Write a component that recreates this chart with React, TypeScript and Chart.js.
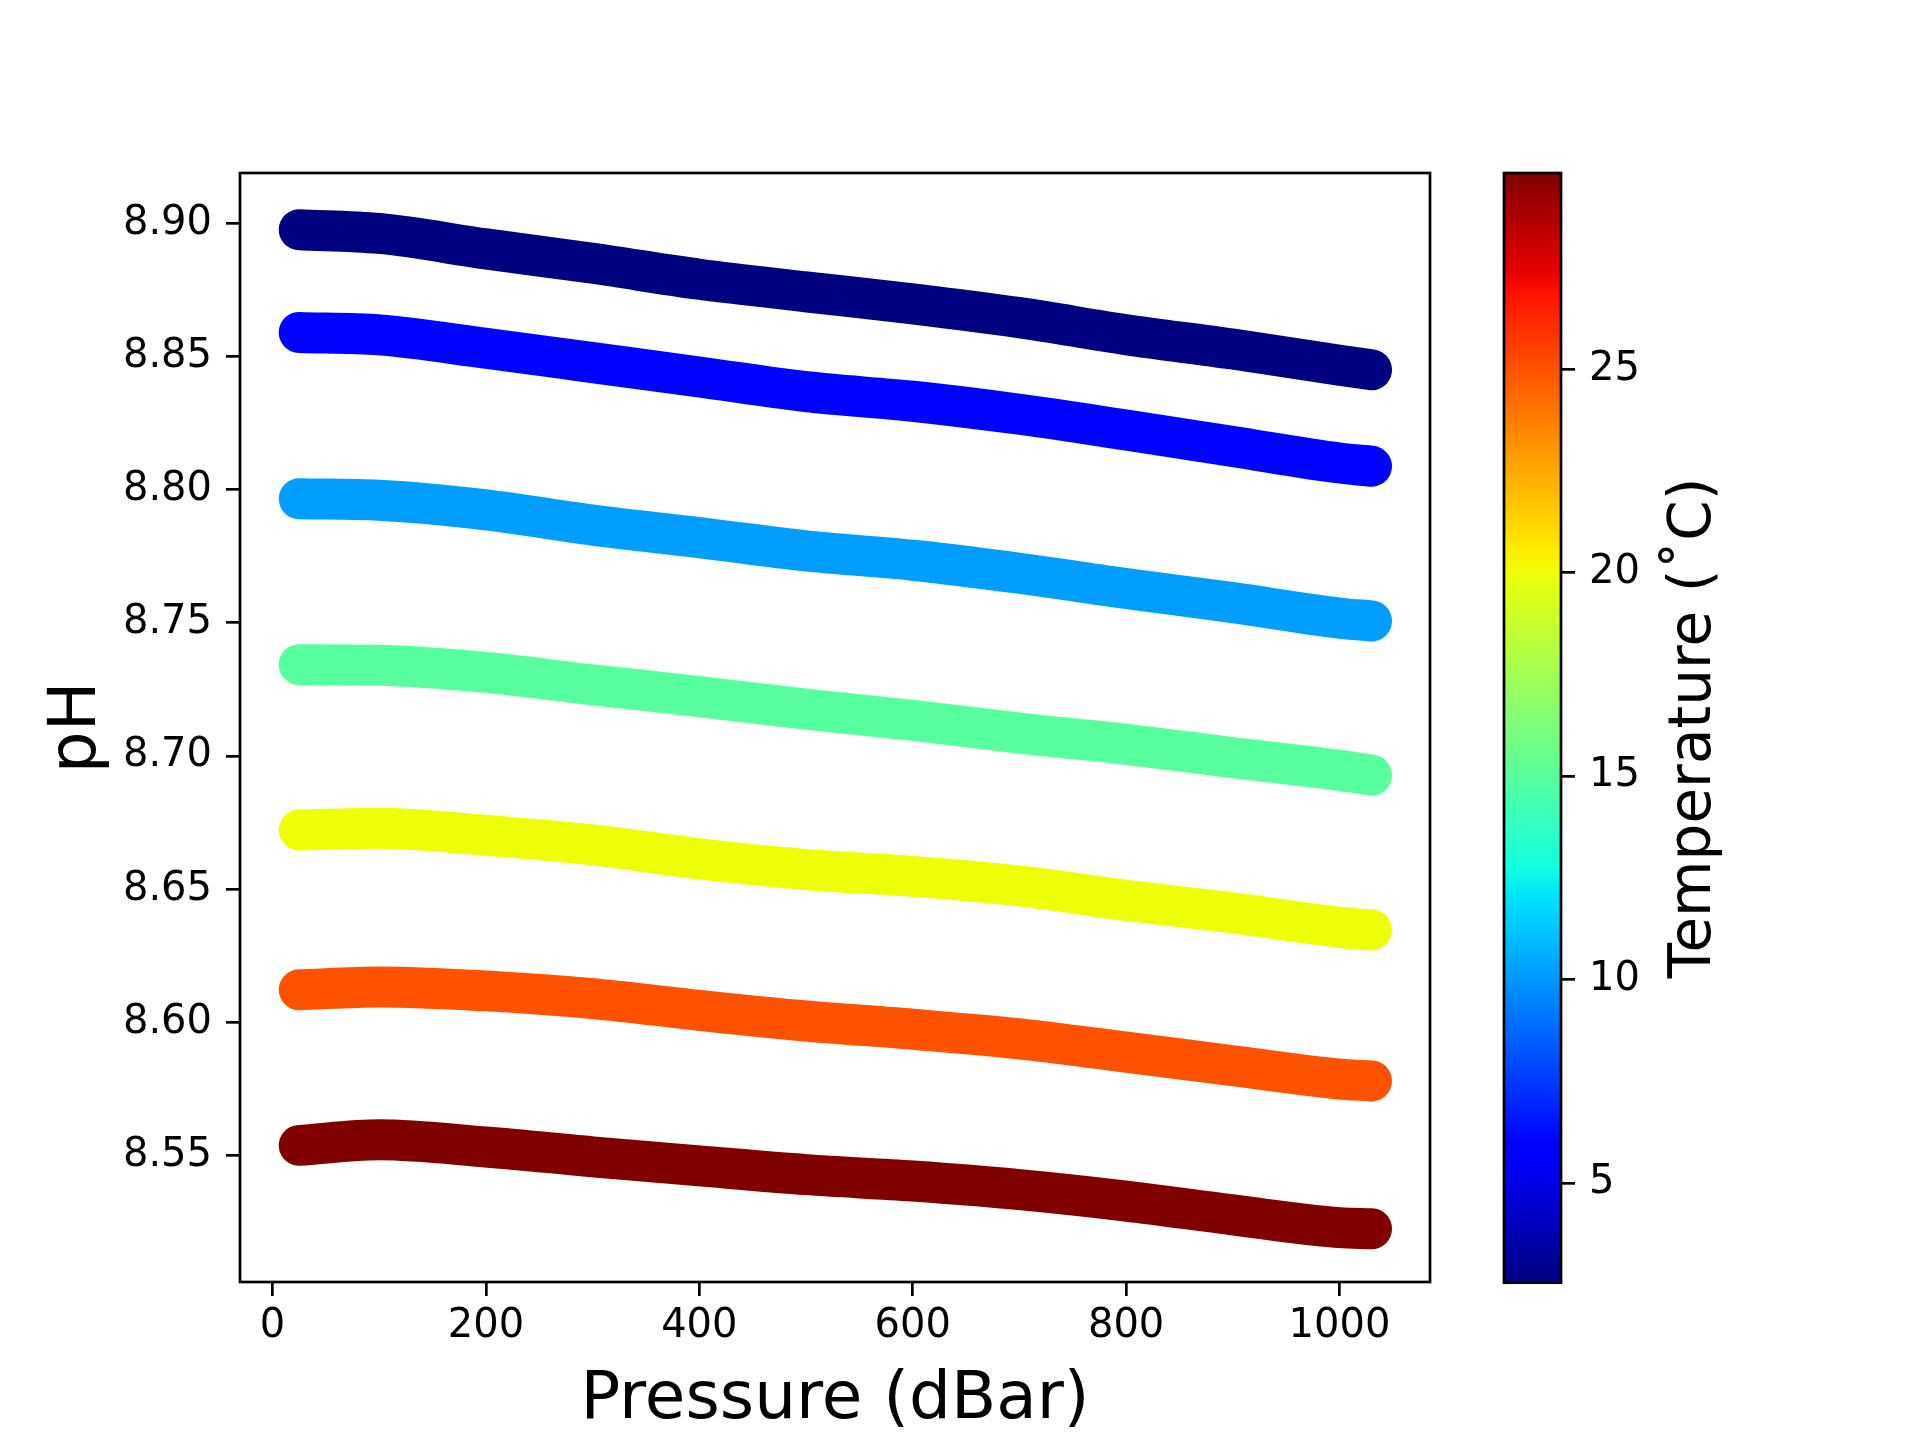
import React, { useEffect, useRef } from "react";
import { Chart, registerables } from "chart.js";

Chart.register(...registerables);

// pressure sample positions (dBar) read along each band
const pressure = [25, 100, 200, 300, 400, 500, 600, 700, 800, 900, 1000, 1030];

// pH at each pressure, one array per temperature run
const ph03 = [8.8976, 8.8962, 8.8904, 8.885, 8.879, 8.8743, 8.8698, 8.8646, 8.8582, 8.8528, 8.8467, 8.845];
const ph06 = [8.859, 8.8581, 8.8531, 8.8477, 8.8423, 8.8368, 8.8332, 8.8283, 8.8224, 8.8162, 8.81, 8.8088];
const ph10 = [8.7966, 8.796, 8.7924, 8.7867, 8.782, 8.777, 8.7735, 8.7686, 8.7629, 8.7576, 8.7518, 8.7507];
const ph15 = [8.7343, 8.7341, 8.7314, 8.7267, 8.7223, 8.7176, 8.7134, 8.7086, 8.7044, 8.6994, 8.6946, 8.6928];
const ph20 = [8.6722, 8.6729, 8.6702, 8.6666, 8.6614, 8.6574, 8.6548, 8.6512, 8.6458, 8.6411, 8.6357, 8.6347];
const ph25 = [8.6122, 8.6133, 8.6118, 8.6089, 8.6045, 8.6005, 8.5974, 8.5938, 8.5888, 8.5837, 8.5787, 8.578];
const ph30 = [8.5538, 8.5559, 8.5532, 8.5495, 8.5461, 8.5428, 8.5404, 8.5372, 8.5329, 8.5277, 8.5229, 8.5225];

const temperatures = [2.55, 6, 10.2, 15, 20, 25, 29.82];
const phSeries = [ph03, ph06, ph10, ph15, ph20, ph25, ph30];

const pressureTicks = [0, 200, 400, 600, 800, 1000];
const phTicks = [8.55, 8.6, 8.65, 8.7, 8.75, 8.8, 8.85, 8.9];
const tempTicks = [5, 10, 15, 20, 25];

const T_MIN = 2.55;
const T_MAX = 29.82;

// matplotlib "jet" colormap segments
const JET_R = [[0, 0], [0.35, 0], [0.66, 1], [0.89, 1], [1, 0.5]];
const JET_G = [[0, 0], [0.125, 0], [0.375, 1], [0.64, 1], [0.91, 0], [1, 0]];
const JET_B = [[0, 0.5], [0.11, 1], [0.34, 1], [0.65, 0], [1, 0]];
const JET_STOPS = [0, 0.11, 0.125, 0.34, 0.35, 0.375, 0.64, 0.65, 0.66, 0.89, 0.91, 1];

const FONT = "DejaVu Sans";

function seg(table: number[][], t: number) {
  for (let i = 1; i < table.length; i++) {
    if (t <= table[i][0]) {
      const [x0, y0] = table[i - 1];
      const [x1, y1] = table[i];
      return y0 + ((t - x0) / (x1 - x0)) * (y1 - y0);
    }
  }
  return table[table.length - 1][1];
}

function jet(t: number) {
  const c = Math.min(1, Math.max(0, t));
  const r = Math.round(seg(JET_R, c) * 255);
  const g = Math.round(seg(JET_G, c) * 255);
  const b = Math.round(seg(JET_B, c) * 255);
  return `rgb(${r},${g},${b})`;
}

const frame = {
  id: "frame",
  afterDraw(chart: any) {
    const { ctx, chartArea } = chart;
    ctx.save();
    ctx.strokeStyle = "#000";
    ctx.lineWidth = 2.7;
    ctx.strokeRect(chartArea.left, chartArea.top, chartArea.right - chartArea.left, chartArea.bottom - chartArea.top);
    ctx.restore();
  },
};

// colorbar label reads bottom-to-top, which chart.js does not do for right-hand axes
const barLabel = {
  id: "barLabel",
  afterDraw(chart: any) {
    const { ctx, chartArea } = chart;
    ctx.save();
    ctx.translate(1710, (chartArea.top + chartArea.bottom) / 2);
    ctx.rotate(-Math.PI / 2);
    ctx.font = `58px "${FONT}"`;
    ctx.fillStyle = "#000";
    ctx.textAlign = "center";
    ctx.textBaseline = "alphabetic";
    ctx.fillText("Temperature (˚C)", 0, 0);
    ctx.restore();
  },
};

const tickFont = { family: FONT, size: 40 };
const markGrid = {
  display: true,
  drawOnChartArea: false,
  drawTicks: true,
  tickLength: 14,
  color: "#000",
  lineWidth: 2.7,
};

export default function App() {
  const mainRef = useRef<HTMLCanvasElement>(null);
  const barRef = useRef<HTMLCanvasElement>(null);

  useEffect(() => {
    if (!mainRef.current || !barRef.current) return;

    const main = new Chart(mainRef.current, {
      type: "line",
      data: {
        datasets: phSeries.map((vals, i) => ({
          label: `${temperatures[i]}`,
          data: pressure.map((p, j) => ({ x: p, y: vals[j] })),
          borderColor: jet((temperatures[i] - T_MIN) / (T_MAX - T_MIN)),
          borderWidth: 41,
          borderCapStyle: "round",
          borderJoinStyle: "round",
          pointRadius: 0,
          fill: false,
          cubicInterpolationMode: "monotone",
        })),
      },
      options: {
        responsive: false,
        animation: false,
        layout: { padding: { top: 173, right: 490, left: 0, bottom: 0 } },
        plugins: { legend: { display: false }, tooltip: { enabled: false } },
        scales: {
          x: {
            type: "linear",
            min: -30.5,
            max: 1084.8,
            afterFit: (s: any) => {
              s.height = 158;
            },
            afterBuildTicks: (s: any) => {
              s.ticks = pressureTicks.map((v) => ({ value: v }));
            },
            ticks: {
              font: tickFont,
              color: "#000",
              padding: 7,
              maxRotation: 0,
              autoSkip: false,
              callback: (v: any) => String(v),
            },
            grid: markGrid,
            border: { display: false },
            title: {
              display: true,
              text: "Pressure (dBar)",
              color: "#000",
              font: { family: FONT, size: 66 },
              padding: { top: 0, bottom: 0 },
            },
          },
          y: {
            type: "linear",
            min: 8.5025,
            max: 8.9189,
            afterFit: (s: any) => {
              s.width = 240;
            },
            afterBuildTicks: (s: any) => {
              s.ticks = phTicks.map((v) => ({ value: v }));
            },
            ticks: {
              font: tickFont,
              color: "#000",
              padding: 14,
              autoSkip: false,
              callback: (v: any) => Number(v).toFixed(2),
            },
            grid: markGrid,
            border: { display: false },
            title: {
              display: true,
              text: "pH",
              color: "#000",
              font: { family: FONT, size: 66 },
              padding: { top: 38, bottom: 0 },
            },
          },
        },
      },
      plugins: [frame],
    } as any);

    const bar = new Chart(barRef.current, {
      type: "bar",
      data: {
        labels: ["T"],
        datasets: [
          {
            data: [[T_MIN, T_MAX]],
            barPercentage: 1,
            categoryPercentage: 1,
            borderWidth: 0,
            backgroundColor: (c: any) => {
              const ch = c.chart;
              if (!ch.chartArea) return "transparent";
              const ys = ch.scales.y;
              const g = ch.ctx.createLinearGradient(0, ys.getPixelForValue(T_MIN), 0, ys.getPixelForValue(T_MAX));
              JET_STOPS.forEach((s) => g.addColorStop(s, jet(s)));
              return g;
            },
          },
        ],
      },
      options: {
        responsive: false,
        animation: false,
        layout: { padding: { top: 173, right: 0, left: 1504, bottom: 157.3 } },
        plugins: { legend: { display: false }, tooltip: { enabled: false } },
        scales: {
          x: { display: false },
          y: {
            type: "linear",
            position: "right",
            min: T_MIN,
            max: T_MAX,
            afterFit: (s: any) => {
              s.width = 1920 - 1561;
            },
            afterBuildTicks: (s: any) => {
              s.ticks = tempTicks.map((v) => ({ value: v }));
            },
            ticks: {
              font: tickFont,
              color: "#000",
              padding: 14,
              autoSkip: false,
              callback: (v: any) => String(v),
            },
            grid: markGrid,
            border: { display: false },
          },
        },
      },
      plugins: [frame, barLabel],
    } as any);

    return () => {
      main.destroy();
      bar.destroy();
    };
  }, []);

  const layer: React.CSSProperties = { position: "absolute", left: 0, top: 0 };

  return (
    <div style={{ position: "absolute", left: 0, top: 0, width: 1920, height: 1440, background: "#fff" }}>
      <canvas ref={mainRef} width={1920} height={1440} style={layer} />
      <canvas ref={barRef} width={1920} height={1440} style={layer} />
    </div>
  );
}
